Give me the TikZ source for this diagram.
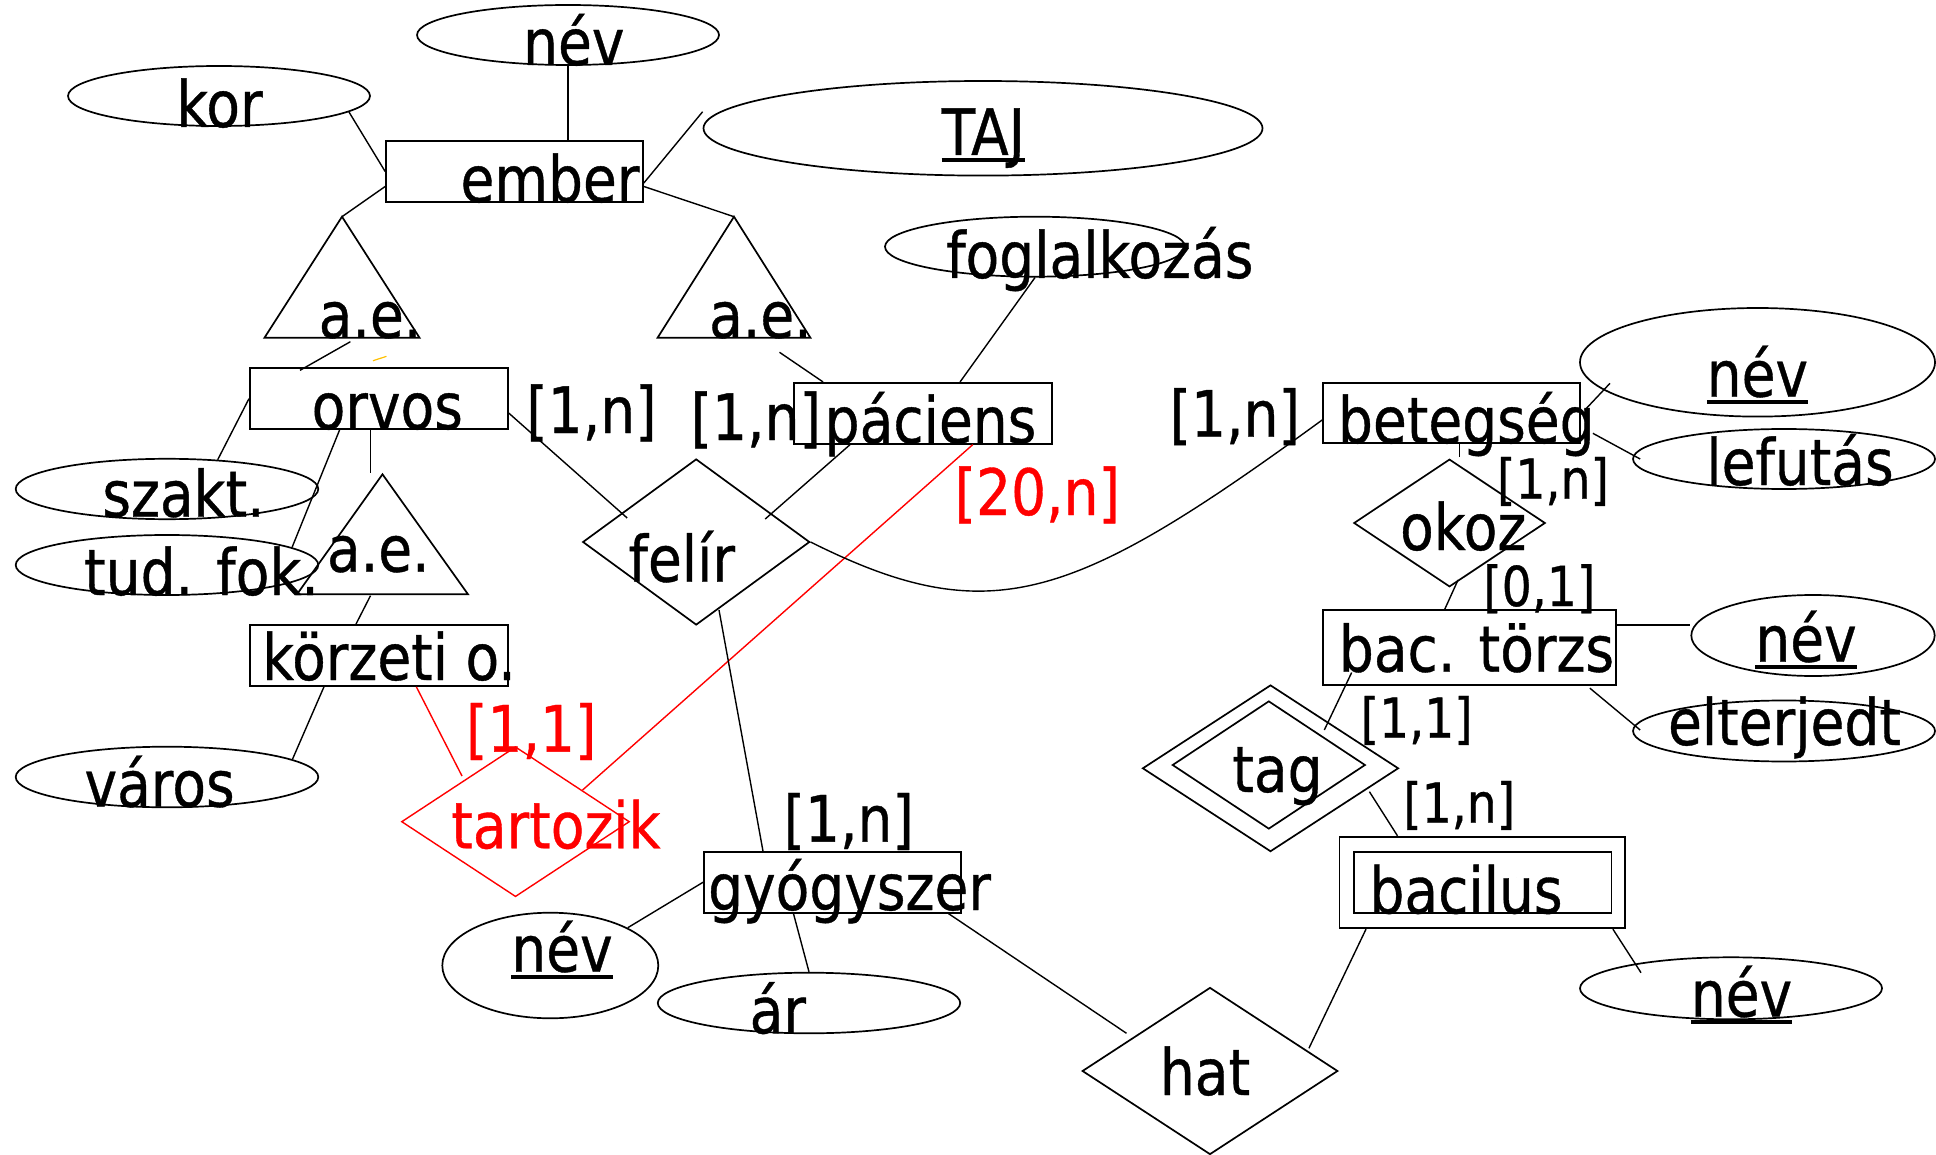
\documentclass[tikz,border=0pt]{standalone}
\usepackage{fontspec}
\setmainfont[FakeStretch=0.86, FakeBold=0.6]{DejaVu Sans}
\usetikzlibrary{shapes.geometric}
\newcommand{\bigtxt}{\fontsize{64}{70}\selectfont}
\newcommand{\smalltxt}{\fontsize{55}{60}\selectfont}
\newcommand{\ulin}[1]{\setbox0\hbox{#1}\rlap{\vrule width\wd0 height -3.5pt depth 7.5pt}\box0}
\definecolor{markyellow}{RGB}{255,192,0}

\begin{document}
\begin{tikzpicture}[%
x=1pt, y=-1pt,
entity/.style={draw, rectangle, line width=1.7pt, inner sep=0pt},
attr/.style={draw, ellipse, line width=1.7pt, inner sep=0pt},
rel/.style={draw, diamond, line width=1.7pt, inner sep=0pt},
lbl/.style={anchor=base, inner sep=0pt, font=\bigtxt},
smalllbl/.style={anchor=base, inner sep=0pt, font=\smalltxt},
link/.style={line width=1.4pt},
redlink/.style={red, line width=1.4pt},
]
\useasboundingbox (0,0) rectangle (1936,1155);
%% entities;
\node[entity, minimum width=257, minimum height=61] (ember) at (514.5,171.5) {};
\node[entity, minimum width=258, minimum height=61] (orvos) at (378.8,398.7) {};
\node[entity, minimum width=258, minimum height=61] (paciens) at (922.9,413.3) {};
\node[entity, minimum width=257, minimum height=60] (betegseg) at (1451.5,413.3) {};
\node[entity, minimum width=258, minimum height=61] (korzeti) at (378.8,655.5) {};
\node[entity, minimum width=293, minimum height=75] (bactorzs) at (1469.3,647.5) {};
\node[entity, minimum width=257, minimum height=61] (gyogyszer) at (832.5,882.2) {};
\node[entity, minimum width=285.5, minimum height=91.6] (bacilus) at (1482.3,882.5) {};
\node[entity, minimum width=257.3, minimum height=61.6] (bacilusin) at (1482.7,882.5) {};
%% attributes;
\node[attr, minimum width=302, minimum height=60] (kor) at (219,96) {};
\node[attr, minimum width=302, minimum height=60] (nev1) at (568,35) {};
\node[attr, minimum width=559, minimum height=94.6] (taj) at (983,128.3) {};
\node[attr, minimum width=300, minimum height=60] (foglalkozas) at (1035,246.7) {};
\node[attr, minimum width=355, minimum height=108.6] (nev2) at (1757.5,362.3) {};
\node[attr, minimum width=302, minimum height=60] (lefutas) at (1784,459) {};
\node[attr, minimum width=243.4, minimum height=81] (nev3) at (1813,635.5) {};
\node[attr, minimum width=302, minimum height=61] (elterjedt) at (1784,731) {};
\node[attr, minimum width=302.6, minimum height=60.4] (szakt) at (167,489) {};
\node[attr, minimum width=302.6, minimum height=60] (tudfok) at (167,565) {};
\node[attr, minimum width=302.6, minimum height=60.6] (varos) at (167,777) {};
\node[attr, minimum width=216, minimum height=105.6] (nev4) at (550.3,965.5) {};
\node[attr, minimum width=302.4, minimum height=60.6] (ar) at (809,1003) {};
\node[attr, minimum width=302, minimum height=62] (nev5) at (1731,988.3) {};
%% relationships;
\node[rel, minimum width=227, minimum height=166] (felir) at (696.2,542) {};
\node[rel, red, line width=1.4pt, minimum width=228, minimum height=150] (tartozik) at (515.5,821.7) {};
\node[rel, minimum width=191.4, minimum height=127.6] (okoz) at (1449.5,523) {};
\node[rel, minimum width=256, minimum height=166.6] (tag) at (1270.5,768.3) {};
\node[rel, minimum width=193, minimum height=128] (taginner) at (1268.8,765) {};
\node[rel, minimum width=255.6, minimum height=167] (hat) at (1210,1071) {};
%% a.e. triangles;
\coordinate (ae1) at (342,216.7);
\coordinate (ae2) at (734,216.7);
\coordinate (ae3) at (382.5,474.3);
\draw[line width=1.7pt] (ae1) -- ++(-77.5,121) -- ++(155,0) -- cycle;
\draw[line width=1.7pt] (ae2) -- ++(-76.4,121) -- ++(152.8,0) -- cycle;
\draw[line width=1.7pt] (ae3) -- ++(-85.5,120) -- ++(171,0) -- cycle;
%% connectors;
\draw[link] (nev1.south) -- (nev1.south |- ember.north);
\draw[link] (kor.-7) -- (ember.west);
\draw[link] ([shift={(0,11.5)}]ember.east) -- ([shift={(0,-16.6)}]taj.west);
\draw[link] ([shift={(0,15)}]ember.west) -- (ae1);
\draw[link] ([shift={(0,15)}]ember.east) -- (ae2);
\draw[link] ([shift={(8.4,125)}]ae1) -- ([shift={(51,3)}]orvos.north west);
\draw[link] ([shift={(45.5,135.6)}]ae2) -- ([shift={(30,0)}]paciens.north west);
\draw[link] (foglalkozas.south) -- ([shift={(167,0)}]paciens.north west);
\draw[link] ([shift={(0,14.3)}]orvos.east) -- ([shift={(-69,-24)}]felir.center);
\draw[link] ([shift={(69,-23)}]felir.center) -- ([shift={(57,0)}]paciens.south west);
\draw[redlink] ([shift={(179.7,0)}]paciens.south west) -- ([shift={(67.1,-31.7)}]tartozik.center);
\draw[link] (orvos.west) -- (szakt.30);
\draw[link] ([shift={(90.6,0)}]orvos.south west) -- (tudfok.8);
\draw[link] ([shift={(-8.3,0)}]orvos.south) -- ([shift={(-12,-1)}]ae3);
\draw[link] ([shift={(-12,121.4)}]ae3) -- ([shift={(107,0)}]korzeti.north west);
\draw[link] ([shift={(75,0)}]korzeti.south west) -- (varos.8);
\draw[redlink] ([shift={(167.4,0)}]korzeti.south west) -- ([shift={(-53.5,-45.7)}]tartozik.center);
\draw[link] ([shift={(22.8,68)}]felir.center) -- ([shift={(59.8,0)}]gyogyszer.north west);
\draw[link] (felir.east) .. controls ([shift={(180,90)}]felir.east) and ([shift={(-250,189)}]betegseg.west) .. ([shift={(0,6.7)}]betegseg.west);
\draw[link] ([shift={(4,-3.3)}]betegseg.east) -- ([shift={(-147.5,21)}]nev2.center);
\draw[link] ([shift={(12,20)}]betegseg.east) -- ([shift={(8,0)}]lefutas.west);
\draw[link] ([shift={(8,0)}]betegseg.south) -- ([shift={(10,-1)}]okoz.north);
\draw[link] ([shift={(8.5,57)}]okoz.center) -- ([shift={(-24.5,0)}]bactorzs.north);
\draw[link] ([shift={(0,-22.5)}]bactorzs.east) -- ([shift={(0,-10.5)}]nev3.west);
\draw[link] ([shift={(-26.8,2.3)}]bactorzs.south east) -- ([shift={(8,-1)}]elterjedt.west);
\draw[link] ([shift={(29.7,-13.3)}]bactorzs.south west) -- ([shift={(53.8,-38.3)}]tag.center);
\draw[link] ([shift={(98.9,23.4)}]tag.center) -- ([shift={(58.8,0)}]bacilus.north west);
\draw[link] ([shift={(27.3,0)}]bacilus.south west) -- ([shift={(98.9,-22.7)}]hat.center);
\draw[link] ([shift={(-13,0)}]bacilus.south east) -- ([shift={(-90,-15.6)}]nev5.center);
\draw[link] ([shift={(-13.4,0)}]gyogyszer.south east) -- ([shift={(-83.5,-37.7)}]hat.center);
\draw[link] (gyogyszer.west) -- (nev4.26);
\draw[link] ([shift={(90.3,0)}]gyogyszer.south west) -- (ar.north);
\draw[markyellow, line width=1.2pt] ([shift={(124,-6.6)}]orvos.north west) -- ([shift={(137.5,-11)}]orvos.north west);
%% labels;
\node[lbl] (kor-t) at (219.5,127) {kor};
\node[lbl] (nev1-t) at (573.8,65) {név};
\node[lbl] (ember-t) at (550,202) {ember};
\node[lbl] (taj-t) at (983.3,155) {\ulin{TAJ}};
\node[lbl] (ae1-t) at (370,337.7) {a.e.};
\node[lbl] (ae2-t) at (760.4,337.7) {a.e.};
\node[lbl] (fogl-t) at (1099.8,278) {foglalkozás};
\node[lbl] (orvos-t) at (387.3,429) {orvos};
\node[lbl] (card1) at (591.5,433) {[1,n]};
\node[lbl] (card2) at (755.8,440) {[1,n]};
\node[lbl] (paciens-t) at (930.5,443) {páciens};
\node[lbl] (card3) at (1234.8,436.7) {[1,n]};
\node[lbl] (betegseg-t) at (1466.3,443) {betegség};
\node[lbl] (nev2-t) at (1757.4,396.7) {\ulin{név}};
\node[lbl] (lefutas-t) at (1800,485) {lefutás};
\node[lbl] (okoz-t) at (1463.2,550) {okoz};
\node[smalllbl] (card4) at (1553,498.7) {[1,n]};
\node[smalllbl] (card5) at (1539.3,606) {[0,1]};
\node[lbl] (szakt-t) at (183.5,516.7) {szakt.};
\node[lbl] (tudfok-t) at (201.5,595) {tud. fok.};
\node[lbl] (ae3-t) at (378.3,571.7) {a.e.};
\node[lbl] (felir-t) at (681.8,581.7) {felír};
\node[lbl, red] (card6) at (1037.3,515) {[20,n]};
\node[lbl] (bactorzs-t) at (1476.5,671.7) {bac. törzs};
\node[lbl] (nev3-t) at (1806,661.7) {\ulin{név}};
\node[lbl] (elterjedt-t) at (1784.5,745) {elterjedt};
\node[smalllbl] (card7) at (1416.7,737.7) {[1,1]};
\node[lbl] (korzeti-t) at (389,680) {körzeti o.};
\node[lbl, red] (card8) at (531.3,751.6) {[1,1]};
\node[lbl, red] (tartozik-t) at (555.9,848.3) {tartozik};
\node[lbl] (varos-t) at (159.6,806.7) {város};
\node[lbl] (tag-t) at (1277.5,792) {tag};
\node[smalllbl] (card9) at (1459.2,822.7) {[1,n]};
\node[lbl] (card10) at (848.7,841.6) {[1,n]};
\node[lbl] (gyogyszer-t) at (849.5,910) {gyógyszer};
\node[lbl] (bacilus-t) at (1466,913.3) {bacilus};
\node[lbl] (nev4-t) at (562,971.7) {\ulin{név}};
\node[lbl] (ar-t) at (777.8,1033.3) {ár};
\node[lbl] (nev5-t) at (1741.5,1016.7) {\ulin{név}};
\node[lbl] (hat-t) at (1205,1095) {hat};
\end{tikzpicture}
\end{document}
